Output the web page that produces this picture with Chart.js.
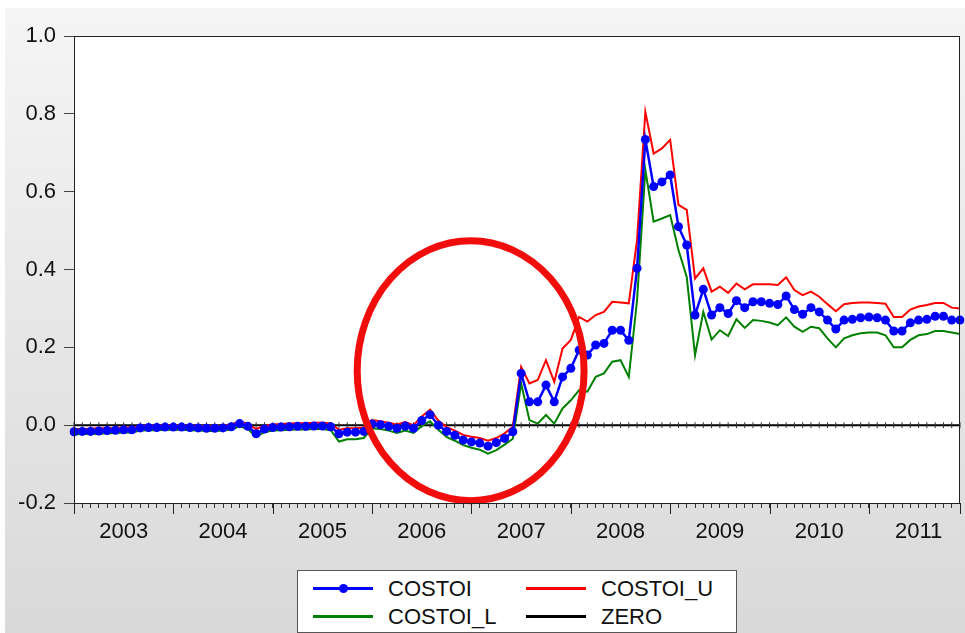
<!DOCTYPE html>
<html>
<head>
<meta charset="utf-8">
<script src="https://cdn.jsdelivr.net/npm/chart.js@4.4.1/dist/chart.umd.min.js"></script>
<style>
  html, body { margin: 0; padding: 0; background: #fff; }
  #wrap { position: relative; width: 965px; height: 633px; overflow: hidden; background: #fff; }
  #bg { position: absolute; left: 5px; top: 8px; right: 0; bottom: 0;
        background: linear-gradient(to bottom, #f5f5f5, #d9d9d9); }
  #chart { position: absolute; left: 0; top: 0; }
  #legend { position: absolute; left: 297px; top: 570px; width: 438px; height: 56px;
            padding-top: 5px; background: #fff; border: 1px solid #555;
            display: grid; grid-template-columns: 213px 1fr;
            font-family: "Liberation Sans", Arial, sans-serif; font-size: 22px; color: #111; }
  .item { display: flex; align-items: center; height: 25px; }
  .swatch { position: relative; width: 60px; height: 3px; margin-left: 15px; margin-right: 15px; }
  .dot { position: absolute; left: 26px; top: -3px; width: 9px; height: 9px; border-radius: 50%; }
</style>
</head>
<body>
<div id="wrap">
  <div id="bg"></div>
  <canvas id="chart" width="965" height="633"></canvas>
  <div id="legend"></div>
</div>
<script>
// monthly sample, 2003M01 .. 2011M12
const years = ["2003", "2004", "2005", "2006", "2007", "2008", "2009", "2010", "2011"];
const monthNums = ["01", "02", "03", "04", "05", "06", "07", "08", "09", "10", "11", "12"];
const months = [];
years.forEach(y => monthNums.forEach(m => months.push(y + "M" + m)));

const yTicks = [-0.2, 0.0, 0.2, 0.4, 0.6, 0.8, 1.0];

const costoi = [
  -0.017, -0.016, -0.016, -0.015, -0.014, -0.013, -0.012, -0.012, -0.007, -0.006, -0.006, -0.005,
  -0.005, -0.005, -0.006, -0.007, -0.008, -0.008, -0.007, -0.004, 0.004, -0.003, -0.022, -0.010,
  -0.006, -0.005, -0.004, -0.003, -0.003, -0.002, -0.002, -0.004, -0.022, -0.018, -0.018, -0.016,
  0.003, 0.001, -0.003, -0.008, -0.002, -0.008, 0.012, 0.027, 0.000, -0.016, -0.026, -0.038,
  -0.043, -0.046, -0.054, -0.045, -0.034, -0.017, 0.133, 0.060, 0.060, 0.103, 0.060, 0.124,
  0.146, 0.193, 0.180, 0.206, 0.210, 0.244, 0.244, 0.218, 0.403, 0.734, 0.613, 0.625,
  0.643, 0.510, 0.463, 0.283, 0.349, 0.283, 0.302, 0.287, 0.320, 0.302, 0.317, 0.317,
  0.313, 0.310, 0.332, 0.297, 0.285, 0.302, 0.291, 0.270, 0.247, 0.270, 0.272, 0.276,
  0.278, 0.276, 0.270, 0.242, 0.242, 0.263, 0.270, 0.272, 0.280, 0.280, 0.270, 0.270
];

const costoiU = [
  -0.010, -0.010, -0.009, -0.008, -0.008, -0.007, -0.006, -0.006, -0.002, -0.001, -0.001, 0.000,
  0.000, 0.000, -0.001, -0.002, -0.003, -0.003, -0.002, 0.002, 0.010, 0.003, -0.010, -0.002,
  0.002, 0.003, 0.004, 0.005, 0.005, 0.006, 0.006, 0.005, -0.012, -0.008, -0.008, -0.006,
  0.013, 0.010, 0.006, 0.002, 0.008, 0.000, 0.022, 0.040, 0.012, -0.005, -0.014, -0.025,
  -0.030, -0.033, -0.040, -0.033, -0.021, -0.004, 0.150, 0.107, 0.116, 0.167, 0.111, 0.197,
  0.219, 0.278, 0.266, 0.283, 0.291, 0.317, 0.315, 0.313, 0.476, 0.805, 0.698, 0.711,
  0.733, 0.566, 0.553, 0.377, 0.403, 0.343, 0.356, 0.340, 0.364, 0.349, 0.362, 0.362,
  0.362, 0.360, 0.380, 0.347, 0.334, 0.343, 0.330, 0.311, 0.293, 0.311, 0.314, 0.315,
  0.315, 0.314, 0.312, 0.278, 0.278, 0.297, 0.305, 0.309, 0.314, 0.314, 0.302, 0.300
];

const costoiL = [
  -0.024, -0.023, -0.023, -0.022, -0.021, -0.020, -0.019, -0.019, -0.014, -0.013, -0.013, -0.012,
  -0.012, -0.012, -0.013, -0.014, -0.015, -0.015, -0.014, -0.011, -0.003, -0.010, -0.030, -0.018,
  -0.014, -0.013, -0.012, -0.011, -0.011, -0.010, -0.010, -0.013, -0.042, -0.036, -0.036, -0.033,
  -0.008, -0.010, -0.014, -0.020, -0.014, -0.020, -0.002, 0.010, -0.012, -0.030, -0.040, -0.051,
  -0.058, -0.063, -0.073, -0.064, -0.050, -0.035, 0.107, 0.013, 0.004, 0.026, 0.004, 0.043,
  0.064, 0.090, 0.086, 0.124, 0.133, 0.163, 0.167, 0.124, 0.321, 0.656, 0.523, 0.531,
  0.540, 0.450, 0.381, 0.180, 0.291, 0.220, 0.244, 0.229, 0.272, 0.250, 0.270, 0.268,
  0.264, 0.257, 0.277, 0.253, 0.240, 0.253, 0.249, 0.223, 0.200, 0.223, 0.231, 0.236,
  0.238, 0.238, 0.231, 0.200, 0.200, 0.219, 0.231, 0.234, 0.242, 0.242, 0.238, 0.234
];

const zero = [
  0, 0, 0, 0, 0, 0, 0, 0, 0, 0, 0, 0,
  0, 0, 0, 0, 0, 0, 0, 0, 0, 0, 0, 0,
  0, 0, 0, 0, 0, 0, 0, 0, 0, 0, 0, 0,
  0, 0, 0, 0, 0, 0, 0, 0, 0, 0, 0, 0,
  0, 0, 0, 0, 0, 0, 0, 0, 0, 0, 0, 0,
  0, 0, 0, 0, 0, 0, 0, 0, 0, 0, 0, 0,
  0, 0, 0, 0, 0, 0, 0, 0, 0, 0, 0, 0,
  0, 0, 0, 0, 0, 0, 0, 0, 0, 0, 0, 0,
  0, 0, 0, 0, 0, 0, 0, 0, 0, 0, 0, 0
];

Chart.defaults.font.family = '"Liberation Sans", Arial, sans-serif';
Chart.defaults.font.size = 22;
Chart.defaults.color = "#111";

// white plot box, black frame, long year ticks and the red ring drawn by hand
const boxPlugin = {
  id: "box",
  beforeDraw(chart) {
    const { ctx, chartArea: a } = chart;
    ctx.save();
    ctx.fillStyle = "#fff";
    ctx.fillRect(a.left, a.top, a.right - a.left, a.bottom - a.top);
    ctx.restore();
  },
  afterDatasetsDraw(chart) {
    const { ctx } = chart;
    const x = chart.scales.x, y = chart.scales.y;
    const cx = x.getPixelForValue(47.9);
    const cy = y.getPixelForValue(0.14);
    const rx = x.getPixelForValue(47.9 + 13.7) - cx;
    const ry = cy - y.getPixelForValue(0.14 + 0.334);
    ctx.save();
    ctx.strokeStyle = "#f20d0d";
    ctx.lineWidth = 7;
    ctx.beginPath();
    ctx.ellipse(cx, cy, rx, ry, 0, 0, Math.PI * 2);
    ctx.stroke();
    ctx.restore();
  },
  afterDraw(chart) {
    const { ctx, chartArea: a } = chart;
    const x = chart.scales.x;
    ctx.save();
    ctx.strokeStyle = "#222";
    ctx.lineWidth = 1;
    ctx.strokeRect(a.left + 0.5, a.top + 0.5, a.right - a.left - 1, a.bottom - a.top);
    ctx.beginPath();
    const majors = years.map((y, k) => k * 12).concat([months.length - 1]);
    majors.forEach(i => {
      const px = Math.round(x.getPixelForValue(i)) + 0.5;
      ctx.moveTo(px, a.bottom);
      ctx.lineTo(px, a.bottom + 11);
    });
    ctx.stroke();
    ctx.restore();
  }
};

const chart = new Chart(document.getElementById("chart"), {
  type: "line",
  data: {
    labels: months,
    datasets: [
      {
        label: "COSTOI", data: costoi, borderColor: "#0000ff", backgroundColor: "#0000ff",
        borderWidth: 2.5, pointRadius: 4.5, pointStyle: "circle",
        pointBackgroundColor: "#0000ff", pointBorderWidth: 0, tension: 0
      },
      {
        label: "COSTOI_U", data: costoiU, borderColor: "#ff0000", backgroundColor: "#ff0000",
        borderWidth: 2, pointRadius: 0, tension: 0
      },
      {
        label: "COSTOI_L", data: costoiL, borderColor: "#008000", backgroundColor: "#008000",
        borderWidth: 2, pointRadius: 0, tension: 0
      },
      {
        label: "ZERO", data: zero, borderColor: "#000", backgroundColor: "#000",
        borderWidth: 2, pointStyle: "line", pointRotation: 90, pointRadius: 3,
        pointBorderWidth: 1, pointBorderColor: "#333", tension: 0
      }
    ]
  },
  options: {
    responsive: false,
    animation: false,
    events: [],
    layout: { padding: { top: 36, right: 2, left: 0, bottom: 0 } },
    plugins: { legend: { display: false }, tooltip: { enabled: false } },
    scales: {
      x: {
        type: "category",
        offset: false,
        border: { display: false },
        grid: { drawOnChartArea: false, drawTicks: true, tickLength: 5, tickColor: "#333", lineWidth: 1 },
        ticks: {
          autoSkip: false, maxRotation: 0, padding: 11,
          callback: (v, i) => (i % 12 === 6 ? months[i].slice(0, 4) : "")
        },
        afterFit: s => { s.height = 130; s.paddingLeft = 0; s.paddingRight = 0; }
      },
      y: {
        min: -0.2, max: 1.0,
        border: { display: false },
        grid: { drawOnChartArea: false, tickLength: 10, tickColor: "#444" },
        afterBuildTicks: s => { s.ticks = yTicks.map(v => ({ value: v })); },
        ticks: { padding: 8, callback: v => Number(v).toFixed(1) },
        afterFit: s => { s.width = 74; }
      }
    }
  },
  plugins: [boxPlugin]
});

// legend box, built from the datasets
const legend = document.getElementById("legend");
chart.data.datasets.forEach(ds => {
  const item = document.createElement("div");
  item.className = "item";
  const sw = document.createElement("div");
  sw.className = "swatch";
  sw.style.background = ds.borderColor;
  if (ds.pointRadius > 0 && ds.pointStyle === "circle") {
    const dot = document.createElement("div");
    dot.className = "dot";
    dot.style.background = ds.borderColor;
    sw.appendChild(dot);
  }
  const txt = document.createElement("span");
  txt.textContent = ds.label;
  item.appendChild(sw);
  item.appendChild(txt);
  legend.appendChild(item);
});
</script>
</body>
</html>
